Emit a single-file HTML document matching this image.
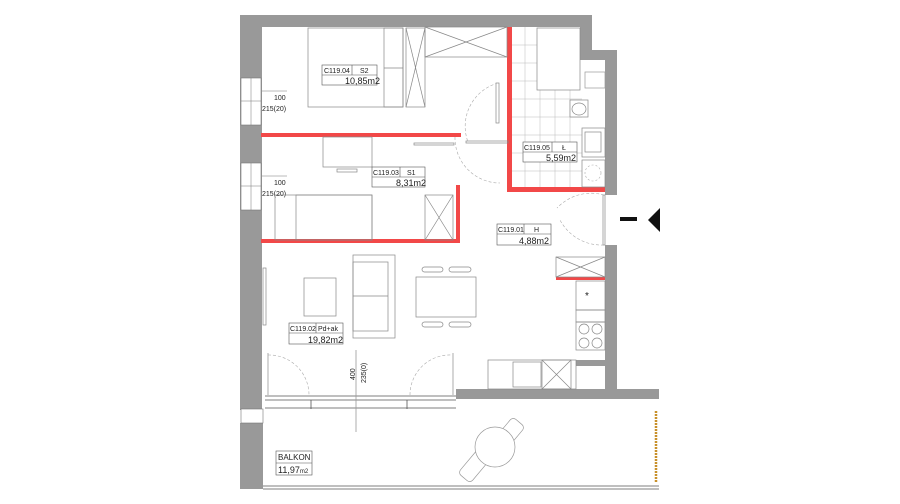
<!DOCTYPE html>
<html><head><meta charset="utf-8"><style>
html,body{margin:0;padding:0;background:#fff;width:900px;height:504px;overflow:hidden}
svg text{font-family:"Liberation Sans",sans-serif;fill:#222}
</style></head><body>
<svg width="900" height="504" viewBox="0 0 900 504" xmlns="http://www.w3.org/2000/svg">
<g fill="#999">
<rect x="240" y="15" width="22" height="395"/>
<rect x="240" y="423" width="23" height="66"/>
<rect x="240" y="15" width="352" height="12"/>
<rect x="580" y="15" width="12" height="45"/>
<rect x="580" y="50" width="37" height="10"/>
<rect x="605" y="50" width="12" height="145"/>
<rect x="605" y="245" width="12" height="150"/>
<rect x="456" y="389" width="203" height="10"/>
<rect x="576" y="360" width="29" height="6"/>
</g>
<rect x="585" y="72" width="20" height="16" fill="#fff" stroke="#999" stroke-width="0.7"/>
<g fill="#fff" stroke="#777" stroke-width="0.6">
<rect x="241" y="78" width="20" height="47"/><rect x="241" y="163" width="20" height="47"/>
<rect x="241" y="409" width="22" height="14"/>
</g>
<g stroke="#777" stroke-width="0.5" fill="none">
<line x1="251" y1="78" x2="251" y2="125"/><line x1="251" y1="163" x2="251" y2="210"/>
<line x1="241" y1="101" x2="261" y2="101"/><line x1="241" y1="186" x2="261" y2="186"/>
<line x1="262" y1="91" x2="287" y2="91"/><line x1="262" y1="176" x2="287" y2="176"/>
</g>
<text x="274" y="100" font-size="7">100</text><text x="262" y="111" font-size="7">215(20)</text>
<text x="274" y="185" font-size="7">100</text><text x="262" y="196" font-size="7">215(20)</text>
<!-- red walls -->
<g fill="#f24848">
<rect x="261" y="133" width="200" height="4"/>
<rect x="507" y="27" width="5" height="165"/>
<rect x="507" y="187" width="98" height="5"/>
<rect x="456" y="185" width="4" height="57"/>
<rect x="261" y="239" width="199" height="4"/>
<rect x="556" y="277" width="49" height="3"/>
</g>
<!-- bathroom tiles -->
<g stroke="#bbb" stroke-width="0.5">
<line x1="512" y1="45" x2="537" y2="45"/><line x1="512" y1="63" x2="537" y2="63"/><line x1="512" y1="81" x2="537" y2="81"/>
<line x1="512" y1="99" x2="582" y2="99"/><line x1="512" y1="117" x2="582" y2="117"/><line x1="512" y1="135" x2="582" y2="135"/><line x1="512" y1="153" x2="582" y2="153"/><line x1="512" y1="171" x2="582" y2="171"/>
<line x1="525" y1="27" x2="525" y2="187"/><line x1="540" y1="90" x2="540" y2="187"/><line x1="555" y1="90" x2="555" y2="187"/><line x1="570" y1="90" x2="570" y2="187"/>
</g>
<g fill="#fff" stroke="#888" stroke-width="0.7">
<rect x="537" y="28" width="43" height="62"/>
<rect x="570" y="100" width="18" height="17"/><ellipse cx="579" cy="109" rx="7" ry="6"/>
<rect x="582" y="128" width="23" height="29"/><rect x="585" y="132" width="16" height="20"/>
<rect x="582" y="160" width="23" height="27"/>
</g>
<circle cx="593" cy="173" r="8" fill="none" stroke="#aaa" stroke-width="0.6" stroke-dasharray="2,2"/>
<!-- S2 furniture -->
<g fill="none" stroke="#888" stroke-width="0.7">
<rect x="308" y="28" width="95" height="79"/>
<rect x="384" y="28" width="19" height="79"/><line x1="384" y1="68" x2="403" y2="68"/>
<rect x="406" y="28" width="19" height="79"/><line x1="406" y1="28" x2="425" y2="107"/><line x1="425" y1="28" x2="406" y2="107"/>
<rect x="425" y="27" width="82" height="30"/><line x1="425" y1="27" x2="507" y2="57"/><line x1="507" y1="27" x2="425" y2="57"/>
<rect x="323" y="137" width="49" height="30"/><rect x="337" y="169" width="20" height="3"/>
<rect x="275" y="195" width="97" height="45"/><rect x="296" y="195" width="76" height="45"/>
<rect x="425" y="195" width="28" height="45"/><line x1="425" y1="195" x2="453" y2="240"/><line x1="453" y1="195" x2="425" y2="240"/>
<rect x="496" y="83" width="3" height="40"/><rect x="503" y="210" width="0" height="0"/>
<rect x="414" y="143" width="40" height="2"/><rect x="466" y="141" width="42" height="2"/>
<rect x="603" y="195" width="2" height="50"/>
</g>
<g fill="none" stroke="#aaa" stroke-width="0.6" stroke-dasharray="3,2">
<path d="M455 137 A45 45 0 0 0 500 183"/><path d="M498 83 A45 45 0 0 0 468 142"/>
<path d="M604 195 A47 47 0 0 0 557 208"/><path d="M604 245 A47 47 0 0 1 560 220"/>
<path d="M268 355 A40 40 0 0 1 309 395"/><path d="M410 395 A40 40 0 0 1 452 355"/>
</g>
<!-- living -->
<g fill="none" stroke="#888" stroke-width="0.7">
<rect x="263" y="268" width="3" height="57"/>
<rect x="304" y="278" width="32" height="38"/>
<rect x="353" y="255" width="42" height="83"/><rect x="353" y="262" width="35" height="69"/><line x1="353" y1="296" x2="388" y2="296"/>
<rect x="416" y="277" width="60" height="40"/>
<rect x="422" y="267" width="21" height="5" rx="2.5"/><rect x="449" y="267" width="22" height="5" rx="2.5"/>
<rect x="422" y="322" width="21" height="5" rx="2.5"/><rect x="449" y="322" width="22" height="5" rx="2.5"/>
<rect x="556" y="257" width="49" height="20"/><line x1="556" y1="257" x2="605" y2="277"/><line x1="605" y1="257" x2="556" y2="277"/>
<rect x="576" y="281" width="29" height="29"/><rect x="576" y="310" width="29" height="12"/>
<rect x="576" y="322" width="29" height="28"/>
<circle cx="584" cy="329" r="5"/><circle cx="597" cy="329" r="5"/><circle cx="584" cy="343" r="5"/><circle cx="597" cy="343" r="5"/>
<rect x="488" y="360" width="88" height="29"/><rect x="513" y="362" width="28" height="25"/>
<rect x="542" y="360" width="29" height="29"/><line x1="542" y1="360" x2="571" y2="389"/><line x1="571" y1="360" x2="542" y2="389"/>
<rect x="268" y="353" width="0" height="42"/><line x1="268" y1="353" x2="268" y2="395"/><line x1="453" y1="353" x2="453" y2="395"/>
</g>
<text x="585" y="299" font-size="10" fill="#888">*</text>
<g stroke="#555" stroke-width="0.8" fill="none">
<line x1="265" y1="396" x2="456" y2="396"/><line x1="265" y1="400" x2="456" y2="400"/><line x1="265" y1="408" x2="456" y2="408"/>
<line x1="311" y1="400" x2="311" y2="409"/><line x1="407" y1="400" x2="407" y2="409"/>
<line x1="263" y1="486" x2="659" y2="486"/><line x1="263" y1="489" x2="659" y2="489"/>
</g>
<line x1="356" y1="350" x2="356" y2="432" stroke="#999" stroke-width="0.8"/>
<text transform="translate(355,380) rotate(-90)" font-size="7">400</text>
<text transform="translate(366,383) rotate(-90)" font-size="7">235(0)</text>
<line x1="656" y1="411" x2="656" y2="482" stroke="#c8902a" stroke-width="2.5" stroke-dasharray="2,1"/>
<!-- balcony table -->
<g fill="#fff" stroke="#999" stroke-width="0.7">
<rect x="500" y="418" width="16" height="34" rx="4" transform="rotate(40 508 435)"/>
<rect x="467" y="448" width="16" height="34" rx="4" transform="rotate(40 475 465)"/>
<circle cx="495" cy="447" r="20"/>
</g>
<!-- labels -->
<g fill="#fff" stroke="#555" stroke-width="0.6">
<rect x="322" y="65" width="55" height="20"/><line x1="322" y1="75" x2="377" y2="75"/><line x1="352" y1="65" x2="352" y2="75"/>
<rect x="372" y="167" width="53" height="20"/><line x1="372" y1="177" x2="425" y2="177"/><line x1="400" y1="167" x2="400" y2="177"/>
<rect x="523" y="142" width="54" height="20"/><line x1="523" y1="152" x2="577" y2="152"/><line x1="552" y1="142" x2="552" y2="152"/>
<rect x="497" y="224" width="54" height="21"/><line x1="497" y1="234" x2="551" y2="234"/><line x1="524" y1="224" x2="524" y2="234"/>
<rect x="289" y="323" width="54" height="21"/><line x1="289" y1="333" x2="343" y2="333"/><line x1="316" y1="323" x2="316" y2="333"/>
<rect x="276" y="451" width="36" height="24"/><line x1="276" y1="463" x2="312" y2="463"/>
</g>
<g font-size="7">
<text x="324" y="73">C119.04</text><text x="360" y="73">S2</text><text x="345" y="84" font-size="9">10,85m2</text>
<text x="373" y="175">C119.03</text><text x="407" y="175">S1</text><text x="396" y="186" font-size="9">8,31m2</text>
<text x="524" y="150">C119.05</text><text x="562" y="150">Ł</text><text x="546" y="161" font-size="9">5,59m2</text>
<text x="498" y="232">C119.01</text><text x="534" y="232">H</text><text x="519" y="244" font-size="9">4,88m2</text>
<text x="290" y="331">C119.02</text><text x="318" y="331">Pd+ak</text><text x="308" y="343" font-size="9">19,82m2</text>
<text x="278" y="460" font-size="8">BALKON</text><text x="278" y="473" font-size="9">11,97<tspan font-size="6">m2</tspan></text>
</g>
<rect x="620" y="217" width="17" height="4" fill="#111"/>
<polygon points="660,208 660,232 648,220" fill="#111"/>
</svg>
</body></html>
